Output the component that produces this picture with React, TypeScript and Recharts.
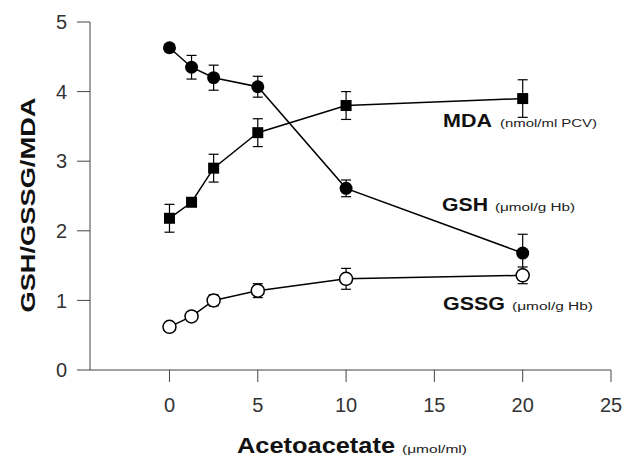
import { LineChart, Line, XAxis, YAxis, ErrorBar } from "recharts";

// acetoacetate concentration (µmol/ml)
const conc = [0, 1.25, 2.5, 5, 10, 20];
const gsh = [4.63, 4.35, 4.2, 4.07, 2.61, 1.68];
const gshErr = [0.05, 0.17, 0.18, 0.15, 0.12, 0.27];
const mda = [2.18, 2.41, 2.9, 3.41, 3.8, 3.9];
const mdaErr = [0.2, 0.06, 0.2, 0.2, 0.2, 0.27];
const gssg = [0.62, 0.77, 1.0, 1.14, 1.31, 1.36];
const gssgErr = [0.06, 0.06, 0.08, 0.1, 0.15, 0.12];

const xTicks = [0, 5, 10, 15, 20, 25];
const yTicks = [0, 1, 2, 3, 4, 5];

const data = conc.map((x, i) => ({
  x,
  gsh: gsh[i],
  gshErr: gshErr[i],
  mda: mda[i],
  mdaErr: mdaErr[i],
  gssg: gssg[i],
  gssgErr: gssgErr[i],
}));

const font = '"Liberation Sans", Arial, sans-serif';
const axisColor = "#444";

const filledDot = (p: any) => (
  <circle key={`gsh-${p.index}`} cx={p.cx} cy={p.cy} r={6.5} fill="#000" />
);
const squareDot = (p: any) => (
  <rect key={`mda-${p.index}`} x={p.cx - 5.5} y={p.cy - 5.5} width={11} height={11} fill="#000" />
);
const openDot = (p: any) => (
  <circle key={`gssg-${p.index}`} cx={p.cx} cy={p.cy} r={6.5} fill="#fff" stroke="#000" strokeWidth={1.5} />
);

export default function App() {
  return (
    <div style={{ position: "absolute", left: 0, top: 0, width: 624, height: 458, background: "#fff", fontFamily: font }}>
      <LineChart width={624} height={458} data={data} margin={{ top: 22, right: 13, bottom: 0, left: 0 }}>
        <XAxis
          type="number"
          dataKey="x"
          domain={[-4.5, 25]}
          ticks={xTicks}
          allowDataOverflow
          height={88}
          stroke={axisColor}
          tickSize={12}
          tickMargin={16}
          tick={{ fill: "#333", fontSize: 20, fontFamily: font }}
        />
        <YAxis
          type="number"
          domain={[0, 5]}
          ticks={yTicks}
          width={90}
          stroke={axisColor}
          tickSize={13}
          tickMargin={10}
          tick={{ fill: "#333", fontSize: 20, fontFamily: font }}
        />
        <Line dataKey="mda" stroke="#000" strokeWidth={1.5} dot={squareDot} isAnimationActive={false}>
          <ErrorBar dataKey="mdaErr" direction="y" width={5} stroke="#000" strokeWidth={1.2} />
        </Line>
        <Line dataKey="gsh" stroke="#000" strokeWidth={1.5} dot={filledDot} isAnimationActive={false}>
          <ErrorBar dataKey="gshErr" direction="y" width={5} stroke="#000" strokeWidth={1.2} />
        </Line>
        <Line dataKey="gssg" stroke="#000" strokeWidth={1.5} dot={openDot} isAnimationActive={false}>
          <ErrorBar dataKey="gssgErr" direction="y" width={5} stroke="#000" strokeWidth={1.2} />
        </Line>
      </LineChart>
      <svg width={624} height={458} style={{ position: "absolute", left: 0, top: 0, pointerEvents: "none" }} fontFamily={font}>
        <text x={443} y={127} fontSize={19} fontWeight="bold" fill="#111" textLength={49} lengthAdjust="spacingAndGlyphs">MDA</text>
        <text x={500} y={127} fontSize={10} fill="#222" textLength={97} lengthAdjust="spacingAndGlyphs">(nmol/ml PCV)</text>
        <text x={442} y={211} fontSize={19} fontWeight="bold" fill="#111" textLength={46} lengthAdjust="spacingAndGlyphs">GSH</text>
        <text x={495} y={211} fontSize={10} fill="#222" textLength={80} lengthAdjust="spacingAndGlyphs">(μmol/g Hb)</text>
        <text x={443} y={310} fontSize={19} fontWeight="bold" fill="#111" textLength={62} lengthAdjust="spacingAndGlyphs">GSSG</text>
        <text x={512} y={310} fontSize={10} fill="#222" textLength={81} lengthAdjust="spacingAndGlyphs">(μmol/g Hb)</text>
        <text x={237} y={453} fontSize={22} fontWeight="bold" fill="#111" textLength={158} lengthAdjust="spacingAndGlyphs">Acetoacetate</text>
        <text x={402} y={453} fontSize={10} fill="#222" textLength={65} lengthAdjust="spacingAndGlyphs">(μmol/ml)</text>
        <text
          x={35}
          y={205}
          transform="rotate(-90 35 205)"
          textAnchor="middle"
          fontSize={21}
          fontWeight="bold"
          fill="#111"
          textLength={215}
          lengthAdjust="spacingAndGlyphs"
        >
          GSH/GSSG/MDA
        </text>
      </svg>
    </div>
  );
}
